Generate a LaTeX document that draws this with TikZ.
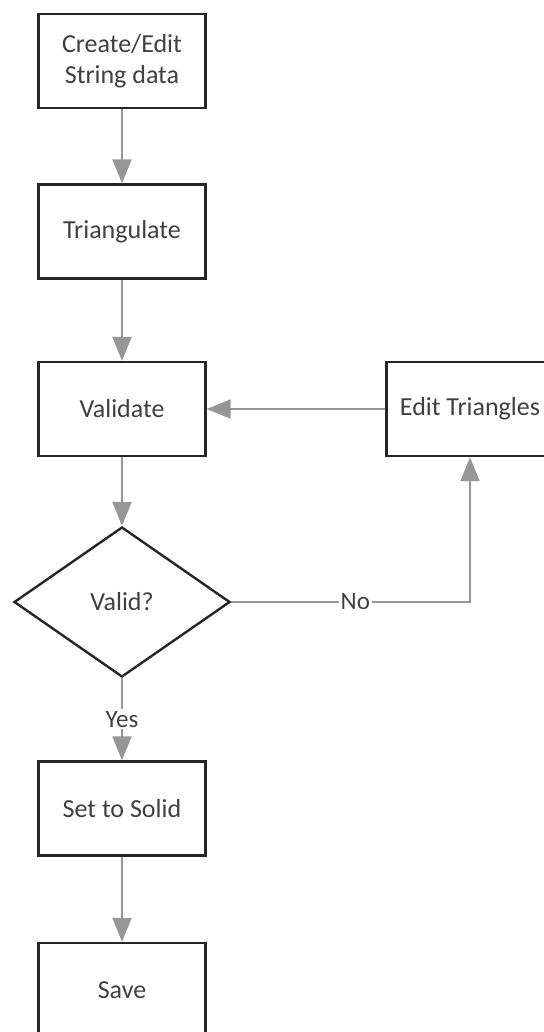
\documentclass[tikz,border=0pt]{standalone}
\usepackage{fontspec}
\setmainfont{Carlito}
\usetikzlibrary{shapes.geometric, arrows.meta, positioning}
\definecolor{linegray}{RGB}{150,150,150}
\definecolor{textgray}{RGB}{64,64,64}

\begin{document}
\begin{tikzpicture}[
    x=0.5pt, y=-0.5pt,
    procbox/.style={rectangle, draw=black!85, line width=1.2pt, fill=white, minimum width=83.5pt, minimum height=47pt, inner sep=2pt, align=center, font=\fontsize{13}{15.5}\selectfont, text=textgray},
    decision/.style={diamond, draw=black!85, line width=1.2pt, fill=white, minimum width=108pt, minimum height=75pt, inner sep=0pt, font=\fontsize{13}{15.5}\selectfont, text=textgray},
    arrow/.style={-{Triangle[length=12pt, width=9.5pt]}, draw=linegray, line width=1.1pt},
    edgelabel/.style={fill=white, inner sep=1pt, font=\fontsize{12.5}{14}\selectfont, text=textgray}
]
\useasboundingbox (0,0) rectangle (544,1032);

% Main column
\node[procbox] (create) at (122,61) {Create/Edit\\String data};
\node[procbox] (triang) at (122,231.5) {Triangulate};
\node[procbox] (validate) at (122,409) {Validate};
\node[decision] (valid) at (122,602) {Valid?};
\node[procbox] (solid) at (122,808.5) {Set to Solid};
\node[procbox] (save) at (122,990) {Save};

% Side loop
\node[procbox] (edittri) at (470,409) {Edit Triangles};

\draw[arrow] (create) -- (triang);
\draw[arrow] (triang) -- (validate);
\draw[arrow] (validate) -- (valid);
\draw[arrow] (valid) -- node[edgelabel] {Yes} (solid);
\draw[arrow] (solid) -- (save);
\draw[arrow] (valid.east) -| node[edgelabel, pos=0.26] {No} (edittri);
\draw[arrow] (edittri) -- (validate);

\end{tikzpicture}
\end{document}
